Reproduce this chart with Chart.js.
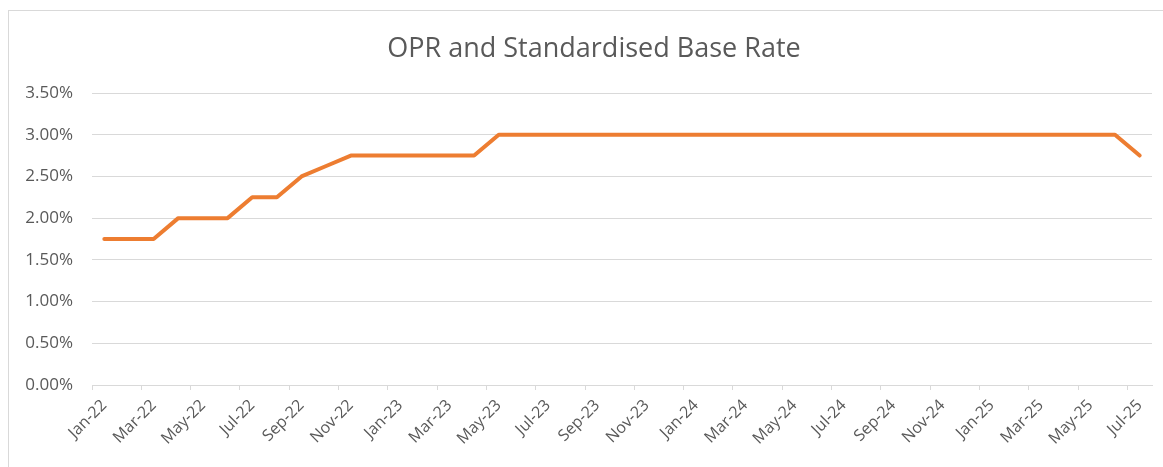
<!DOCTYPE html>
<html>
<head>
<meta charset="utf-8">
<script src="https://cdn.jsdelivr.net/npm/chart.js@4.4.0/dist/chart.umd.min.js"></script>
<style>
    html, body { margin: 0; padding: 0; background: #fff; overflow: hidden; }
    #wrap { position: relative; width: 1163px; height: 467px; overflow: hidden; }
    #frame { position: absolute; left: 8px; top: 10px; width: 1200px; height: 500px; border: 1px solid #d9d9d9; box-sizing: border-box; }
    canvas { position: absolute; left: 0; top: 0; }
</style>
</head>
<body>
<div id="wrap">
    <div id="frame"></div>
    <canvas id="rateChart" width="1163" height="467"></canvas>
</div>
<script>
// Chart data
const chartTitle = 'OPR and Standardised Base Rate';
const months = [
    'Jan-22', 'Feb-22', 'Mar-22', 'Apr-22', 'May-22', 'Jun-22', 'Jul-22', 'Aug-22', 'Sep-22', 'Oct-22', 'Nov-22', 'Dec-22',
    'Jan-23', 'Feb-23', 'Mar-23', 'Apr-23', 'May-23', 'Jun-23', 'Jul-23', 'Aug-23', 'Sep-23', 'Oct-23', 'Nov-23', 'Dec-23',
    'Jan-24', 'Feb-24', 'Mar-24', 'Apr-24', 'May-24', 'Jun-24', 'Jul-24', 'Aug-24', 'Sep-24', 'Oct-24', 'Nov-24', 'Dec-24',
    'Jan-25', 'Feb-25', 'Mar-25', 'Apr-25', 'May-25', 'Jun-25', 'Jul-25'
];
const rates = [
    1.75, 1.75, 1.75, 2.00, 2.00, 2.00, 2.25, 2.25, 2.50, 2.625, 2.75, 2.75,
    2.75, 2.75, 2.75, 2.75, 3.00, 3.00, 3.00, 3.00, 3.00, 3.00, 3.00, 3.00,
    3.00, 3.00, 3.00, 3.00, 3.00, 3.00, 3.00, 3.00, 3.00, 3.00, 3.00, 3.00,
    3.00, 3.00, 3.00, 3.00, 3.00, 3.00, 2.75
];
const yTicks = [0, 0.5, 1.0, 1.5, 2.0, 2.5, 3.0, 3.5];

const textColor = '#595959';
const gridColor = '#d9d9d9';
const font = "'Open Sans', 'Noto Sans', sans-serif";

// Title sits a bit right of the canvas centre, as in the Excel original
const offsetTitle = {
    id: 'offsetTitle',
    afterDraw(chart, args, opts) {
        const c = chart.ctx;
        c.save();
        c.font = '27px ' + font;
        c.fillStyle = textColor;
        c.textAlign = 'center';
        c.textBaseline = 'middle';
        c.fillText(opts.text, opts.x, opts.y);
        c.restore();
    }
};

const ctx = document.getElementById('rateChart').getContext('2d');
new Chart(ctx, {
    type: 'line',
    data: {
        labels: months,
        datasets: [{
            label: chartTitle,
            data: rates,
            borderColor: '#ed7d31',
            borderWidth: 4,
            borderCapStyle: 'round',
            borderJoinStyle: 'round',
            pointRadius: 0,
            tension: 0,
            fill: false
        }]
    },
    plugins: [offsetTitle],
    options: {
        responsive: false,
        animation: false,
        layout: { padding: { left: 0, right: 11, top: 93, bottom: 0 } },
        plugins: {
            legend: { display: false },
            tooltip: { enabled: false },
            title: { display: false },
            offsetTitle: { text: chartTitle, x: 594, y: 49 }
        },
        scales: {
            x: {
                offset: true,
                grid: {
                    offset: true,
                    drawOnChartArea: false,
                    drawTicks: true,
                    tickLength: 5,
                    color: c => (c.index % 2 === 0 ? gridColor : 'rgba(0,0,0,0)')
                },
                border: { display: true, color: gridColor, width: 1 },
                ticks: {
                    autoSkip: false,
                    maxRotation: 45,
                    minRotation: 45,
                    color: textColor,
                    font: { family: font, size: 16 },
                    padding: 6,
                    callback: function(val, i) { return i % 2 === 0 ? months[i] : ''; }
                },
                afterFit: s => { s.height = 82; }
            },
            y: {
                min: 0,
                max: 3.5,
                afterBuildTicks: s => { s.ticks = yTicks.map(v => ({ value: v })); },
                grid: { color: gridColor, drawTicks: false },
                border: { display: false },
                ticks: {
                    color: textColor,
                    font: { family: font, size: 17 },
                    padding: 19,
                    callback: v => v.toFixed(2) + '%'
                },
                afterFit: s => { s.width = 92; }
            }
        }
    }
});
</script>
</body>
</html>
